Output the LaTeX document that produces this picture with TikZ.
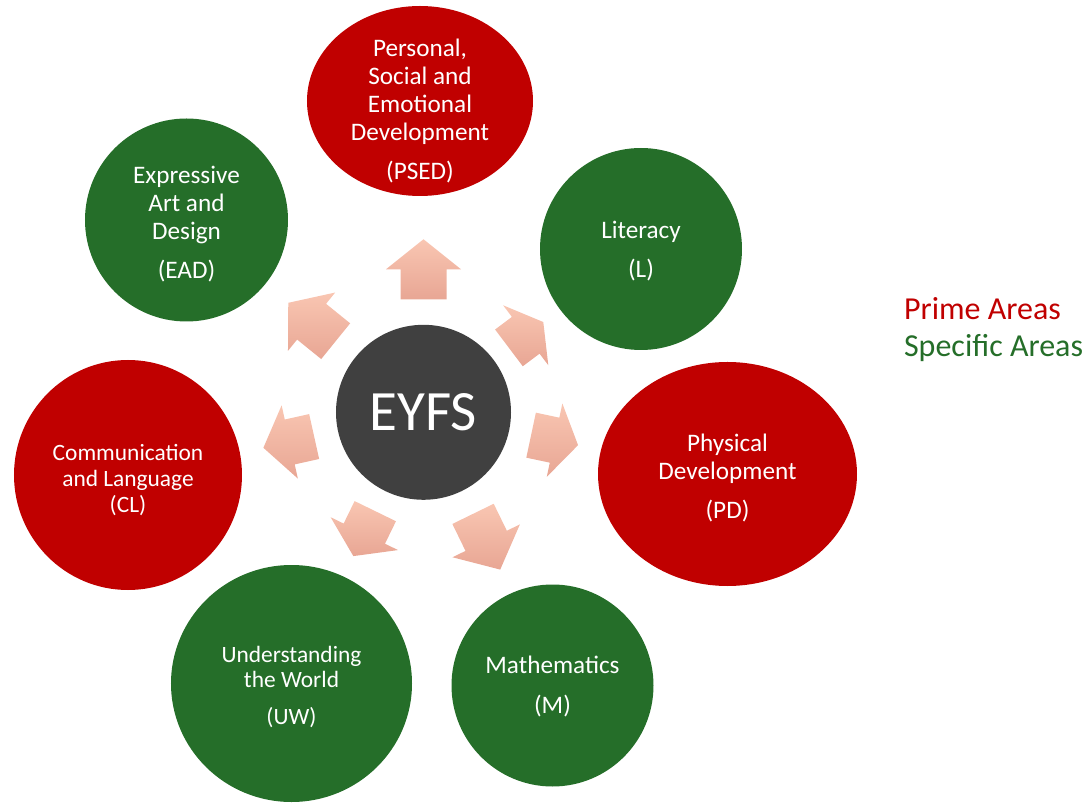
\documentclass[tikz,border=0pt]{standalone}
\usepackage{fontspec}
\setmainfont{Carlito}
\usetikzlibrary{shapes.geometric}
\definecolor{primered}{RGB}{192,0,0}
\definecolor{specgreen}{RGB}{37,110,41}
\definecolor{hubgray}{RGB}{64,64,64}
\definecolor{arrtop}{RGB}{249,198,178}
\definecolor{arrbot}{RGB}{232,166,148}
\tikzset{
  area/.style={ellipse, inner sep=0pt},
  prime/.style={area, fill=primered},
  specific/.style={area, fill=specgreen},
  areatext/.style={text=white, align=center, inner sep=0pt,
    font=\fontsize{25.2}{27.8}\selectfont},
  smalltext/.style={areatext, font=\fontsize{23.4}{25.8}\selectfont},
  arrowshade/.style={top color=arrtop, bottom color=arrbot, draw=none}
}
\begin{document}
\begin{tikzpicture}[x=1pt,y=1pt]
\useasboundingbox (-423.5,-392.7) rectangle (665.5,412.3);
\node[circle, fill=hubgray, minimum size=175pt, inner sep=0pt, text=white,
  font=\fontsize{57}{60}\selectfont] (eyfs) at (0,0) {EYFS};
\foreach \a/\s/\l/\h in {90/113/60/30, 37/107/43/22, -12/110/48/24, -64/113/62/32,
  -116/110/50/25, 192.5/112/52/27, 141/113/61/30}
  \shade[arrowshade, rotate=\a] (\s,-23) -- (\s+\l-\h,-23) -- (\s+\l-\h,-37.5)
    -- (\s+\l,0) -- (\s+\l-\h,37.5) -- (\s+\l-\h,23) -- (\s,23) -- cycle;
\node[prime, minimum width=226pt, minimum height=190pt] (psed) at (-3.5,311.3) {};
\node[specific, minimum size=202pt] (lit) at (217.5,163.3) {};
\node[prime, minimum width=259pt, minimum height=224pt] (pd) at (304,-61.7) {};
\node[specific, minimum size=202pt] (math) at (129,-273.2) {};
\node[specific, minimum width=241pt, minimum height=237pt] (uw) at (-132,-271.2) {};
\node[prime, minimum width=228pt, minimum height=230pt] (cl) at (-295.5,-62.7) {};
\node[specific, minimum size=203pt] (ead) at (-237,192.3) {};
\node[areatext] (psedtext) at ([yshift=-10pt]psed.center)
  {Personal,\\Social and\\Emotional\\Development\\[11pt](PSED)};
\node[areatext] (littext) at ([yshift=-2pt]lit.center) {Literacy\\[12pt](L)};
\node[areatext] (pdtext) at ([yshift=-4pt]pd.center) {Physical\\Development\\[11pt](PD)};
\node[areatext] (mathtext) at ([yshift=-1pt]math.center) {Mathematics\\[12pt](M)};
\node[smalltext, font=\fontsize{23.4}{25}\selectfont] (uwtext) at ([yshift=-3pt]uw.center)
  {Understanding\\the World\\[12pt](UW)};
\node[smalltext] (cltext) at ([yshift=-5pt]cl.center) {Communication\\and Language\\(CL)};
\node[areatext] (eadtext) at ([yshift=-4pt]ead.center)
  {Expressive\\Art and\\Design\\[11pt](EAD)};
\node[anchor=base west, text=primered, font=\fontsize{32}{38}\selectfont]
  (prime) at (477,92.3) {Prime Areas};
\node[anchor=base west, text=specgreen, font=\fontsize{32}{38}\selectfont]
  (specific) at (477,55.3) {Specific Areas};
\end{tikzpicture}
\end{document}
